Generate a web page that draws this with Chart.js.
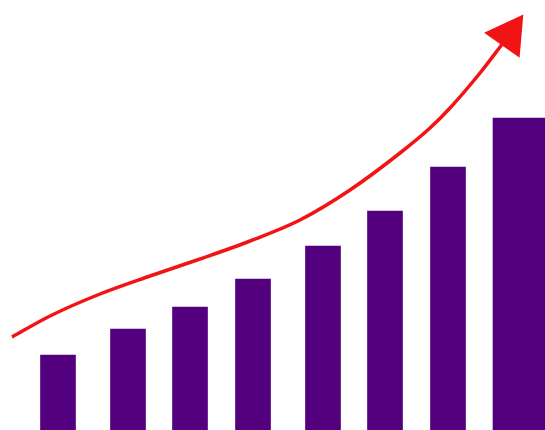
<!DOCTYPE html>
<html>
<head>
<meta charset="utf-8">
<script src="https://cdn.jsdelivr.net/npm/chart.js@4/dist/chart.umd.min.js"></script>
<style>
  html, body { margin: 0; padding: 0; background: #fff; }
  #wrap { width: 545px; height: 430px; }
</style>
</head>
<body>
<div id="wrap"><canvas id="growthChart"></canvas></div>
<script>
// bar centres and heights
const barX = [58, 128, 190, 253, 323, 385, 448];
const barHeights = [75, 101, 123, 151, 184, 219, 263];
const lastBarX = 523;
const lastBarHeight = 312;

// trend arrow (last point is where the arrowhead sits)
const curveX = [12, 50, 100, 150, 200, 250, 300, 350, 400, 430, 450, 480, 500, 509];
const curveY = [93, 114, 136, 154, 171, 189, 210, 240, 277, 302, 322, 357, 383, 395];

const purple = '#53007f';
const red = '#f21414';

const ctx = document.getElementById('growthChart').getContext('2d');
new Chart(ctx, {
    type: 'bar',
    data: {
        datasets: [{
            type: 'line',
            data: curveX.map((x, i) => ({ x: x, y: curveY[i] })),
            borderColor: red,
            borderWidth: 3.5,
            cubicInterpolationMode: 'monotone',
            pointRadius: curveX.map((x, i) => i === curveX.length - 1 ? 25 : 0),
            pointStyle: 'triangle',
            pointRotation: 35,
            pointBackgroundColor: red,
            pointBorderColor: red,
            pointBorderWidth: 0,
            clip: false,
            order: 0
        }, {
            data: barX.map((x, i) => ({ x: x, y: barHeights[i] })),
            backgroundColor: purple,
            barThickness: 35,
            grouped: false,
            order: 1
        }, {
            data: [{ x: lastBarX, y: lastBarHeight }],
            backgroundColor: purple,
            barThickness: 60,
            grouped: false,
            order: 1
        }]
    },
    options: {
        responsive: true,
        maintainAspectRatio: false,
        animation: false,
        layout: { padding: 0, autoPadding: false },
        plugins: {
            legend: { display: false },
            tooltip: { enabled: false }
        },
        scales: {
            x: { type: 'linear', min: 0, max: 545, offset: false, display: false },
            y: { min: 0, max: 430, display: false }
        }
    }
});
</script>
</body>
</html>
